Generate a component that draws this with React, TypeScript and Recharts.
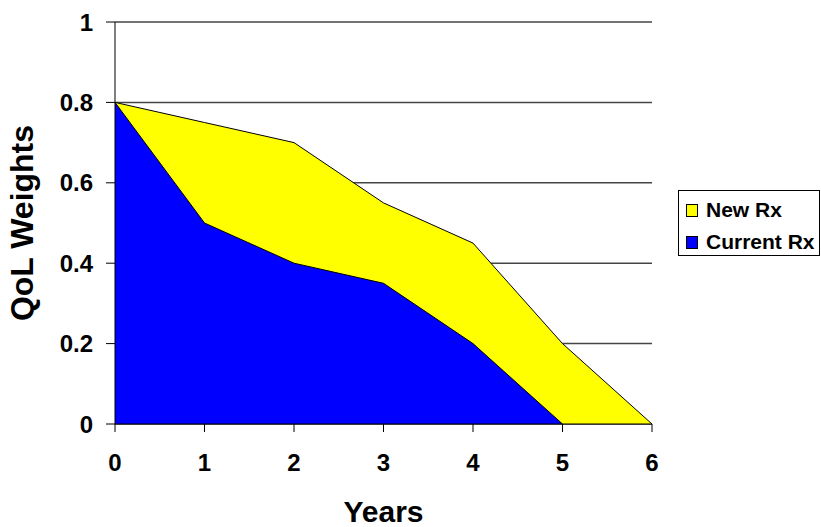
import { Area, AreaChart, CartesianGrid, XAxis, YAxis } from "recharts";

const years = [0, 1, 2, 3, 4, 5, 6];
const newRx = [0.8, 0.75, 0.7, 0.55, 0.45, 0.2, 0];
const currentRx = [0.8, 0.5, 0.4, 0.35, 0.2, 0, null];
const yTicks = [0, 0.2, 0.4, 0.6, 0.8, 1];
const seriesNames = ["New Rx", "Current Rx"];
const seriesColors = ["#ffff00", "#0000ff"];

const data = years.map((year, i) => ({
  year,
  newRx: newRx[i],
  currentRx: currentRx[i],
}));

const font = '"Liberation Sans", Arial, sans-serif';
const tickStyle = { fontSize: 24, fontWeight: 700, fill: "#000", fontFamily: font };

function YTitle(props: any) {
  const { viewBox } = props;
  const cy = viewBox.y + viewBox.height / 2;
  const x = 33;
  return (
    <text
      x={x}
      y={cy}
      transform={`rotate(-90, ${x}, ${cy})`}
      textAnchor="middle"
      fontSize={32}
      fontWeight={700}
      fontFamily={font}
      fill="#000"
    >
      QoL Weights
    </text>
  );
}

function ChartLegend() {
  return (
    <div
      style={{
        position: "absolute",
        left: 678,
        top: 190,
        width: 142,
        height: 66,
        boxSizing: "border-box",
        border: "1px solid #000",
        background: "#fff",
        fontFamily: font,
        fontWeight: 700,
        fontSize: 21,
        paddingLeft: 7,
        paddingTop: 5,
      }}
    >
      {seriesNames.map((name, i) => (
        <div key={name} style={{ display: "flex", alignItems: "center", height: 28, marginBottom: 4 }}>
          <span
            style={{
              display: "inline-block",
              width: 12,
              height: 13,
              boxSizing: "border-box",
              border: "1px solid #000",
              background: seriesColors[i],
              marginRight: 8,
            }}
          />
          <span>{name}</span>
        </div>
      ))}
    </div>
  );
}

export default function App() {
  return (
    <div style={{ position: "absolute", left: 0, top: 0, width: 821, height: 527, background: "#fff" }}>
      <AreaChart width={821} height={527} data={data} margin={{ top: 22, right: 169, bottom: 0, left: 0 }}>
        <CartesianGrid vertical={false} stroke="#444" strokeWidth={1.5} />
        <XAxis
          dataKey="year"
          type="number"
          domain={[0, 6]}
          ticks={years}
          height={103}
          tickSize={8}
          tickMargin={22}
          stroke="#000"
          tick={tickStyle}
          label={{
            value: "Years",
            position: "insideBottom",
            offset: 5,
            style: { fontSize: 30, fontWeight: 700, fill: "#000", fontFamily: font },
          }}
        />
        <YAxis
          domain={[0, 1]}
          ticks={yTicks}
          width={115}
          tickSize={9}
          tickMargin={13}
          stroke="#000"
          tick={tickStyle}
          label={<YTitle />}
        />
        <Area
          type="linear"
          dataKey="newRx"
          name={seriesNames[0]}
          fill={seriesColors[0]}
          fillOpacity={1}
          stroke="#000"
          strokeWidth={1}
          isAnimationActive={false}
        />
        <Area
          type="linear"
          dataKey="currentRx"
          name={seriesNames[1]}
          fill={seriesColors[1]}
          fillOpacity={1}
          stroke="#000"
          strokeWidth={1}
          isAnimationActive={false}
        />
      </AreaChart>
      <ChartLegend />
    </div>
  );
}
